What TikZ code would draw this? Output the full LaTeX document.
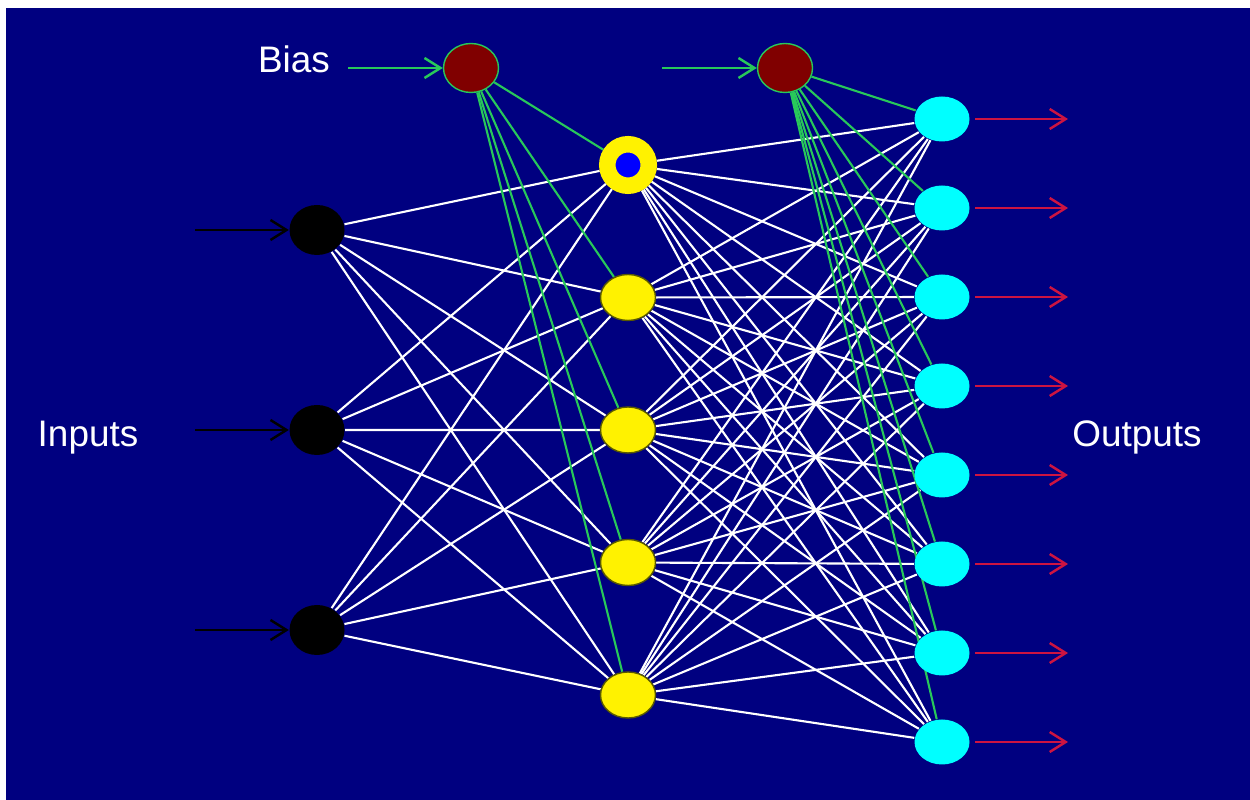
\documentclass[tikz,border=0pt]{standalone}
\usepackage{fontspec}
\setmainfont{Liberation Sans}
\usetikzlibrary{arrows.meta,shapes.geometric,positioning}

\definecolor{navy}{RGB}{0,0,128}
\definecolor{biasred}{RGB}{128,0,0}
\definecolor{biasgreen}{RGB}{40,200,90}
\definecolor{outred}{RGB}{205,20,65}
\definecolor{olive edge}{RGB}{90,90,0}
\definecolor{aqua}{RGB}{0,255,255}

\pgfdeclarelayer{background}
\pgfsetlayers{background,main}

\begin{document}
\begin{tikzpicture}[x=0.1mm,y=-0.1mm,>={Straight Barb[length=1.6mm,width=2mm]},
                    wire/.style={white,line width=0.6pt},
                    bias wire/.style={biasgreen,line width=0.6pt},
                    in node/.style={ellipse,fill=black,inner sep=0pt,minimum width=5.5mm,minimum height=5mm},
                    bias node/.style={ellipse,fill=biasred,draw=biasgreen,line width=0.4pt,inner sep=0pt,minimum width=5.5mm,minimum height=4.9mm},
                    hidden node/.style={ellipse,fill=yellow,draw=olive edge,line width=0.4pt,inner sep=0pt,minimum width=5.5mm,minimum height=4.6mm},
                    ring node/.style={circle,fill=blue,draw=yellow,line width=1.65mm,inner sep=0pt,minimum size=4.15mm},
                    out node/.style={ellipse,fill=aqua,inner sep=0pt,minimum width=5.5mm,minimum height=4.5mm},
                    label text/.style={white,anchor=base,font=\fontsize{10.5}{12}\selectfont}]

\useasboundingbox (0,0) rectangle (1250,800);

\node[bias node] (b1) at (471,68) {};
\node[bias node] (b2) at (785,68) {};

\node[in node] (i1) at (317,230) {};
\node[in node] (i2) [below of=i1,node distance=20mm] {};
\node[in node] (i3) [below of=i2,node distance=20mm] {};

\node[ring node] (h1) at (628,165) {};
\node[hidden node] (h2) [below of=h1,node distance=13.25mm] {};
\node[hidden node] (h3) [below of=h2,node distance=13.25mm] {};
\node[hidden node] (h4) [below of=h3,node distance=13.25mm] {};
\node[hidden node] (h5) [below of=h4,node distance=13.25mm] {};

\node[out node] (o1) at (942,119) {};
\foreach \o [remember=\o as \p (initially 1)] in {2,...,8}
  \node[out node] (o\o) [below of=o\p,node distance=8.9mm] {};

\node[label text] (bias) at (294,73) {Bias};
\node[label text] (inputs) at (88,447) {Inputs};
\node[label text] (outputs) at (1137,447) {Outputs};

% free ends of the arrows
\coordinate[left of=b1,node distance=12.3mm] (bs1);
\coordinate[left of=b2,node distance=12.3mm] (bs2);
\foreach \i in {1,2,3}
  \coordinate[left of=i\i,node distance=12.2mm] (x\i);
\foreach \o in {1,...,8}
  \coordinate[right of=o\o,node distance=12.6mm] (y\o);

\draw[->,biasgreen,line width=0.7pt] (bs1) -- (b1);
\draw[->,biasgreen,line width=0.7pt] (bs2) -- (b2);
\foreach \i in {1,2,3}
  \draw[->,black,line width=0.7pt] (x\i) -- (i\i);
\foreach \o in {1,...,8}
  \draw[->,outred,line width=0.7pt,shorten <=0.5mm] (o\o) -- (y\o);

\begin{pgfonlayer}{background}
\fill[white] (0,0) rectangle (1250,800);
\fill[navy] (6,8) rectangle (1250,800);
\foreach \h in {1,...,5} {
  \foreach \i in {1,2,3}
    \draw[wire] (i\i) -- (h\h);
  \foreach \o in {1,...,8}
    \draw[wire] (h\h) -- (o\o);
  \draw[bias wire] (b1) -- (h\h);
}
\foreach \o in {1,...,8}
  \draw[bias wire] (b2) -- (o\o);
\end{pgfonlayer}
\end{tikzpicture}
\end{document}
